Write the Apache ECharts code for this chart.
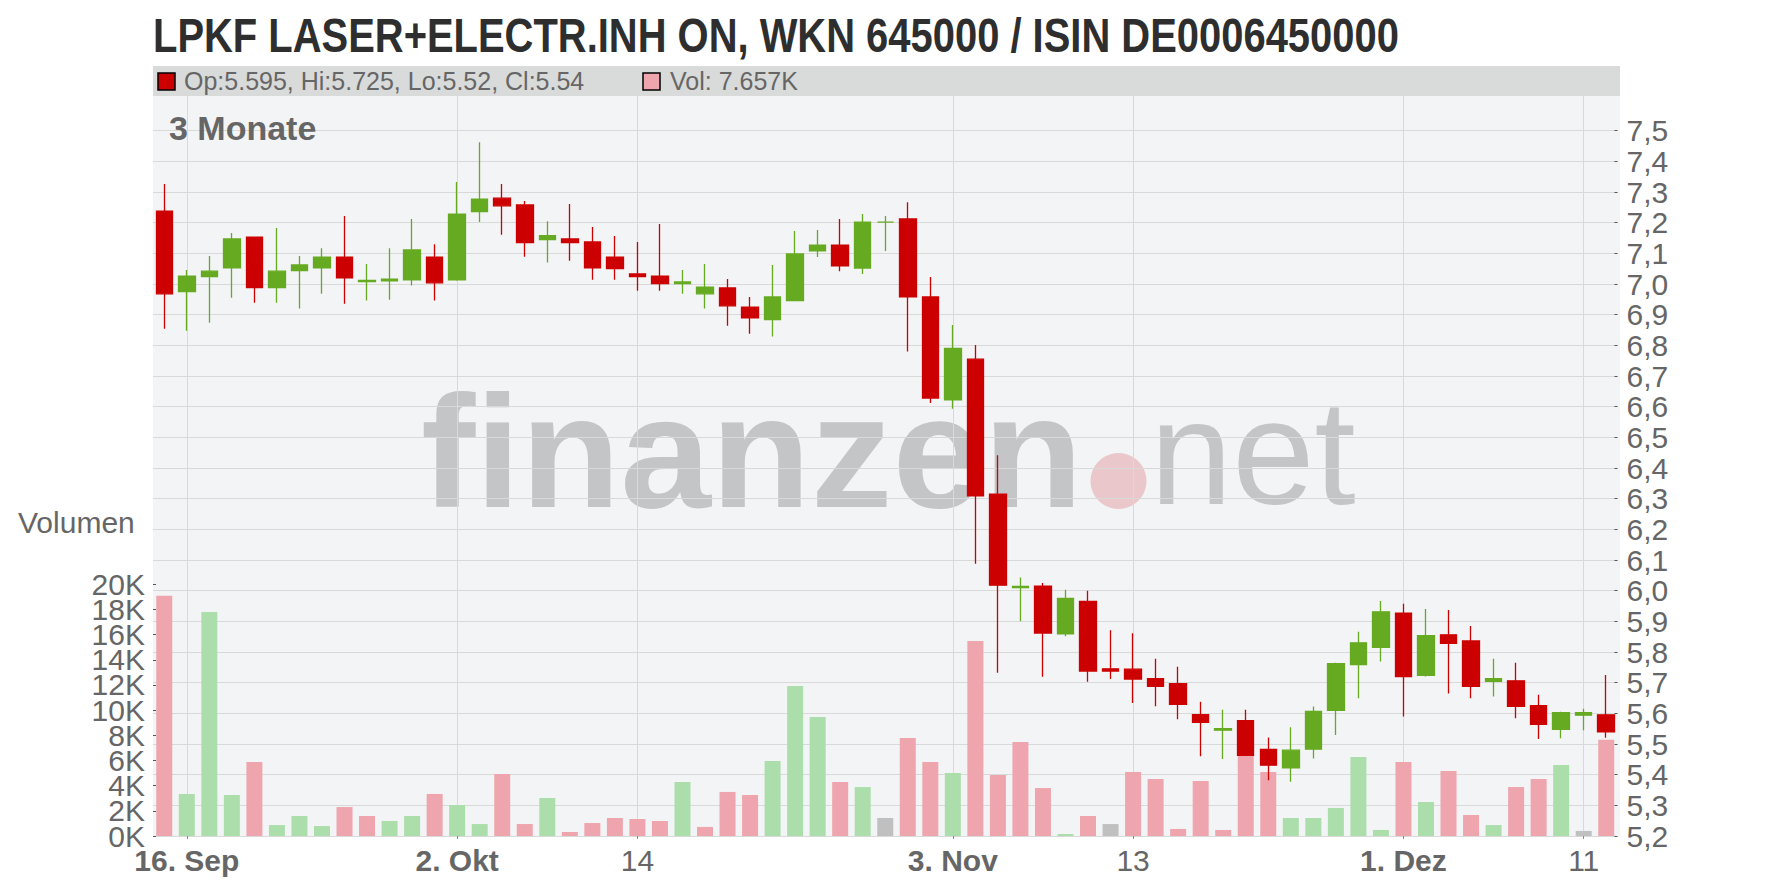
<!DOCTYPE html>
<html>
<head>
<meta charset="utf-8">
<script src="https://cdn.jsdelivr.net/npm/echarts@6/dist/echarts.min.js"></script>
<style>
html,body{margin:0;padding:0;background:#ffffff;}
#chart{width:1776px;height:888px;}
</style>
</head>
<body>
<div id="chart"></div>
<script>
// ---------- DATA ----------
const titleText = 'LPKF LASER+ELECTR.INH ON, WKN 645000 / ISIN DE0006450000';
const rangeLabel = '3 Monate';
const volumeLabel = 'Volumen';

const dates = ['2025-09-15','2025-09-16','2025-09-17','2025-09-18','2025-09-19','2025-09-22','2025-09-23','2025-09-24','2025-09-25','2025-09-26',
'2025-09-29','2025-09-30','2025-10-01','2025-10-02','2025-10-03','2025-10-06','2025-10-07','2025-10-08','2025-10-09','2025-10-10',
'2025-10-13','2025-10-14','2025-10-15','2025-10-16','2025-10-17','2025-10-20','2025-10-21','2025-10-22','2025-10-23','2025-10-24',
'2025-10-27','2025-10-28','2025-10-29','2025-10-30','2025-10-31','2025-11-03','2025-11-04','2025-11-05','2025-11-06','2025-11-07',
'2025-11-10','2025-11-11','2025-11-12','2025-11-13','2025-11-14','2025-11-17','2025-11-18','2025-11-19','2025-11-20','2025-11-21',
'2025-11-24','2025-11-25','2025-11-26','2025-11-27','2025-11-28','2025-12-01','2025-12-02','2025-12-03','2025-12-04','2025-12-05',
'2025-12-08','2025-12-09','2025-12-10','2025-12-11','2025-12-12'];

const opens = [7.238,6.975,7.024,7.053,7.153,6.988,7.044,7.053,7.088,7.008,
7.010,7.014,7.088,7.014,7.236,7.280,7.258,7.145,7.147,7.137,
7.088,7.033,7.026,7.001,6.968,6.987,6.925,6.884,6.946,7.108,
7.127,7.052,7.202,7.212,6.958,6.622,6.755,6.315,6.010,6.015,
5.859,5.965,5.745,5.744,5.713,5.697,5.596,5.545,5.576,5.482,
5.422,5.483,5.610,5.759,5.815,5.927,5.724,5.856,5.836,5.704,
5.706,5.625,5.548,5.594,5.595];

const highs = [7.326,7.046,7.091,7.166,7.153,7.183,7.091,7.117,7.222,7.065,
7.117,7.212,7.130,7.333,7.462,7.326,7.271,7.205,7.261,7.186,
7.157,7.137,7.196,7.046,7.065,7.016,6.958,7.062,7.173,7.176,
7.212,7.228,7.222,7.267,7.023,6.866,6.801,6.442,6.043,6.025,
6.003,6.000,5.871,5.861,5.778,5.752,5.638,5.612,5.612,5.521,
5.555,5.622,5.765,5.866,5.966,5.957,5.940,5.937,5.885,5.778,
5.765,5.661,5.605,5.615,5.725];

const lows = [6.854,6.848,6.874,6.955,6.939,6.939,6.920,6.968,6.936,6.946,
6.949,6.995,6.946,7.011,7.202,7.161,7.089,7.070,7.076,7.014,
7.014,6.978,6.978,6.968,6.920,6.864,6.838,6.829,6.946,7.088,
7.042,7.033,7.108,6.780,6.612,6.593,6.088,5.732,5.900,5.719,
5.851,5.703,5.712,5.634,5.623,5.581,5.460,5.451,5.463,5.382,
5.377,5.453,5.529,5.649,5.769,5.590,5.720,5.665,5.649,5.655,
5.584,5.516,5.519,5.545,5.52];

const closes = [6.968,7.026,7.042,7.147,6.988,7.042,7.062,7.088,7.020,7.012,
7.016,7.111,7.004,7.228,7.277,7.255,7.135,7.158,7.135,7.053,
7.050,7.024,7.001,7.007,6.990,6.929,6.890,6.958,7.098,7.127,
7.059,7.202,7.202,6.958,6.628,6.790,6.309,6.018,6.014,5.862,
5.975,5.738,5.738,5.712,5.688,5.629,5.571,5.550,5.463,5.431,
5.480,5.606,5.762,5.830,5.931,5.720,5.853,5.828,5.688,5.713,
5.623,5.564,5.602,5.602,5.54];

const volumes = [19100,3340,17800,3260,5880,870,1590,790,2300,1590,
1190,1590,3340,2460,950,4930,950,3020,320,1030,
1430,1350,1190,4290,720,3500,3260,5960,11920,9460,
4290,3890,1430,7790,5880,5010,15500,4850,7470,3810,
160,1590,950,5090,4530,560,4370,480,6360,5090,
1430,1430,2230,6280,480,5880,2700,5170,1670,870,
3890,4530,5640,400,7657];

const tickDates  = ['2025-09-16','2025-10-02','2025-10-14','2025-11-03','2025-11-13','2025-12-01','2025-12-11'];
const tickLabels = ['16. Sep','2. Okt','14','3. Nov','13','1. Dez','11'];

const priceMin = 5.2, priceMax = 7.5, priceStep = 0.1;
const volMin = 0, volMax = 20000, volStep = 2000;

// ---------- STYLE ----------
const FONT = '"Liberation Sans", Arial, Helvetica, sans-serif';
const UP = '#66aa22', DOWN = '#cc0000';
const VOL_UP = '#acdeab', VOL_DOWN = '#eea5ad', VOL_FLAT = '#c0c0c0';
const GRIDLINE = '#d9d9d9';
const LABEL = '#666666';

const candleData = dates.map((d, i) => [opens[i], closes[i], lows[i], highs[i]]);
const volumeData = volumes.map((v, i) => {
  const prev = i > 0 ? closes[i - 1] : opens[i];
  const c = closes[i];
  const col = c > prev ? VOL_UP : (c < prev ? VOL_DOWN : VOL_FLAT);
  return { value: v, itemStyle: { color: col } };
});

const last = dates.length - 1;
const headerText = 'Op:' + opens[last] + ', Hi:' + highs[last] + ', Lo:' + lows[last] + ', Cl:' + closes[last];
const headerVol = 'Vol: ' + (volumes[last] / 1000).toFixed(3) + 'K';

const isTick = (idx) => tickDates.indexOf(dates[idx]) >= 0;

const L = 153, R = 158.5, B = 52;

const volLabel = { show: true, margin: 8, fontFamily: FONT, fontSize: 30, lineHeight: 23, color: LABEL,
                   hideOverlap: false, formatter: (v) => Math.round(v / 1000) + 'K' };
const volTick = { show: true, inside: true, length: 3, lineStyle: { color: '#555' } };

const chart = echarts.init(document.getElementById('chart'), null, { renderer: 'svg', width: 1776, height: 888 });

const option = {
  animation: false,
  backgroundColor: '#ffffff',
  grid: [
    { left: L, right: R, top: 130.7, bottom: B, outerBoundsMode: 'none' },
    { left: L, right: R, top: 584.3, bottom: B, outerBoundsMode: 'none' },
    { left: L, right: R, top: 96, bottom: B, outerBoundsMode: 'none' }
  ],
  xAxis: [
    { type: 'category', gridIndex: 0, data: dates, boundaryGap: true,
      axisLine: { show: false }, axisTick: { show: false }, axisLabel: { show: false }, splitLine: { show: false } },
    { type: 'category', gridIndex: 1, data: dates, boundaryGap: true,
      axisLine: { show: false }, axisTick: { show: false }, axisLabel: { show: false }, splitLine: { show: false } },
    { type: 'category', gridIndex: 2, data: dates, boundaryGap: true, position: 'bottom',
      axisLine: { show: false },
      axisTick: { show: true, alignWithLabel: true, length: 3, lineStyle: { color: '#888' },
                  interval: (idx) => isTick(idx) },
      splitLine: { show: true, alignWithLabel: true, lineStyle: { color: GRIDLINE, width: 1 },
                   interval: (idx) => isTick(idx) },
      axisLabel: {
        show: true, margin: 9, interval: (idx) => isTick(idx), hideOverlap: false,
        formatter: (value) => {
          const k = tickDates.indexOf(value);
          if (k < 0) return '';
          const t = tickLabels[k];
          return t.indexOf('.') >= 0 ? '{b|' + t + '}' : '{n|' + t + '}';
        },
        rich: {
          b: { fontFamily: FONT, fontSize: 30, fontWeight: 'bold', color: LABEL },
          n: { fontFamily: FONT, fontSize: 30, color: LABEL }
        }
      }
    }
  ],
  yAxis: [
    { type: 'value', gridIndex: 0, position: 'right', min: priceMin, max: priceMax, interval: priceStep,
      axisLine: { show: false },
      axisTick: { show: true, inside: true, length: 3, lineStyle: { color: '#555' } },
      splitLine: { show: true, lineStyle: { color: GRIDLINE, width: 1 } },
      axisLabel: { show: true, margin: 9, fontFamily: FONT, fontSize: 30, lineHeight: 26, color: LABEL, align: 'left',
                   showMinLabel: true, showMaxLabel: true, hideOverlap: false,
                   formatter: (v) => v.toFixed(1).replace('.', ',') } },
    // inner volume ticks 2K..18K
    { type: 'value', gridIndex: 1, position: 'left', min: volMin, max: volMax, interval: volStep,
      axisLine: { show: false }, axisTick: volTick, splitLine: { show: false },
      axisLabel: Object.assign({}, volLabel, { showMinLabel: false, showMaxLabel: false }) },
    { type: 'value', gridIndex: 2, show: false, min: 0, max: 1, splitLine: { show: false } },
    // end volume ticks 0K and 20K
    { type: 'value', gridIndex: 1, position: 'left', min: volMin, max: volMax, interval: volMax - volMin,
      axisLine: { show: false }, axisTick: volTick, splitLine: { show: false },
      axisLabel: Object.assign({}, volLabel, { showMinLabel: true, showMaxLabel: true }) }
  ],
  series: [
    { type: 'bar', name: 'Volumen', xAxisIndex: 1, yAxisIndex: 1, data: volumeData,
      barWidth: 16, z: 3, itemStyle: { borderWidth: 0 } },
    { type: 'candlestick', name: 'Kurs', xAxisIndex: 0, yAxisIndex: 0, data: candleData,
      barWidth: 17, z: 5,
      itemStyle: { color: UP, color0: DOWN, borderColor: UP, borderColor0: DOWN, borderWidth: 1.3 } }
  ],
  graphic: [
    { type: 'rect', z: -10, shape: { x: 153, y: 66, width: 1467, height: 770 }, style: { fill: '#f3f4f6' } },
    { type: 'rect', z: -9, shape: { x: 153, y: 66, width: 1467, height: 30 }, style: { fill: '#d9dada' } },
    { type: 'text', z: -5, x: 421, y: 452, scaleX: 1.02,
      style: { text: 'finanzen', font: 'bold 160px ' + FONT, fill: '#c4c5c7', verticalAlign: 'middle', textVerticalAlign: 'middle' } },
    { type: 'circle', z: -5, shape: { cx: 1118.5, cy: 481, r: 28 }, style: { fill: '#e9c7cb' } },
    { type: 'text', z: -5, x: 1150, y: 452,
      style: { text: 'net', font: '148px ' + FONT, fill: '#c4c5c7', verticalAlign: 'middle', textVerticalAlign: 'middle' } },
    { type: 'text', z: 10, x: 153, y: 35, scaleX: 0.832,
      style: { text: titleText, font: 'bold 48px ' + FONT, fill: '#2e2e2e', verticalAlign: 'middle', textVerticalAlign: 'middle' } },
    { type: 'rect', z: 10, shape: { x: 158, y: 73, width: 17, height: 17 }, style: { fill: DOWN, stroke: '#000', lineWidth: 1.5 } },
    { type: 'text', z: 10, x: 184, y: 81,
      style: { text: headerText, font: '25px ' + FONT, fill: LABEL, verticalAlign: 'middle', textVerticalAlign: 'middle' } },
    { type: 'rect', z: 10, shape: { x: 643, y: 73, width: 17, height: 17 }, style: { fill: VOL_DOWN, stroke: '#000', lineWidth: 1.5 } },
    { type: 'text', z: 10, x: 670, y: 81,
      style: { text: headerVol, font: '25px ' + FONT, fill: LABEL, verticalAlign: 'middle', textVerticalAlign: 'middle' } },
    { type: 'text', z: 10, x: 169, y: 128,
      style: { text: rangeLabel, font: 'bold 34px ' + FONT, fill: LABEL, verticalAlign: 'middle', textVerticalAlign: 'middle' } },
    { type: 'text', z: 10, x: 18, y: 522,
      style: { text: volumeLabel, font: '30px ' + FONT, fill: LABEL, verticalAlign: 'middle', textVerticalAlign: 'middle' } }
  ]
};

chart.setOption(option);
</script>
</body>
</html>
